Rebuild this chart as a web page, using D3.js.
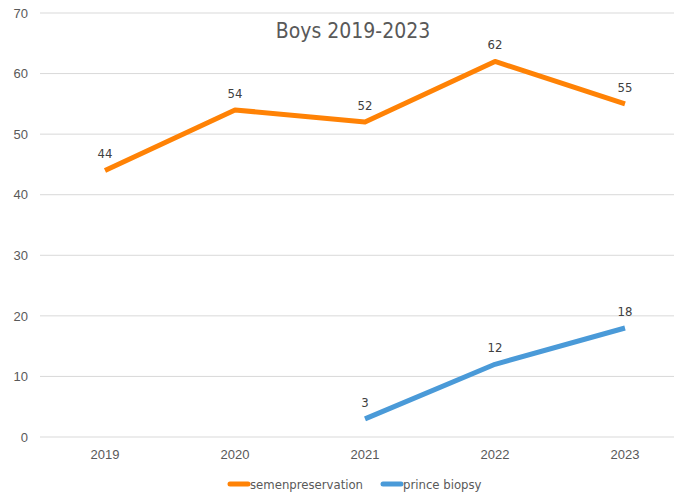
<!DOCTYPE html>
<html>
<head>
<meta charset="utf-8">
<script src="https://cdn.jsdelivr.net/npm/d3@7"></script>
<style>
  body { margin: 0; background: #fff; }
  svg { font-family: "DejaVu Sans Condensed", "DejaVu Sans", sans-serif; }
</style>
</head>
<body>
<div id="chart"></div>
<script>
const years = ['2019', '2020', '2021', '2022', '2023'];
const semen = [44, 54, 52, 62, 55];
const biopsy = [null, null, 3, 12, 18];
const yTicks = [0, 10, 20, 30, 40, 50, 60, 70];

const width = 674, height = 494;
const margin = { top: 13, right: -16, bottom: 57, left: 40 };
const innerW = width - margin.left - margin.right;
const innerH = height - margin.top - margin.bottom;

const svg = d3.select('#chart').append('svg')
  .attr('width', width)
  .attr('height', height);

const g = svg.append('g')
  .attr('transform', `translate(${margin.left},${margin.top})`);

const x = d3.scaleBand().domain(years).range([0, innerW]);
const y = d3.scaleLinear().domain([0, 70]).range([innerH, 0]);

// grid lines
g.append('g')
  .selectAll('line')
  .data(yTicks)
  .enter().append('line')
  .attr('x1', 0)
  .attr('x2', innerW)
  .attr('y1', d => y(d))
  .attr('y2', d => y(d))
  .attr('stroke', '#d9d9d9')
  .attr('stroke-width', 1);

const yAxis = d3.axisLeft(y).tickValues(yTicks).tickSize(0).tickPadding(12);
g.append('g').call(yAxis)
  .call(s => s.select('.domain').remove())
  .selectAll('text')
  .attr('fill', '#595959')
  .style('font-size', '13px');

const xAxis = d3.axisBottom(x).tickSize(0).tickPadding(13);
g.append('g')
  .attr('transform', `translate(0,${innerH})`)
  .call(xAxis)
  .call(s => s.select('.domain').remove())
  .selectAll('text')
  .attr('fill', '#595959')
  .style('font-size', '13px');

const cx = d => x(d) + x.bandwidth() / 2;

const series = [
  { name: 'semenpreservation', values: semen, color: '#ff8205' },
  { name: 'prince biopsy', values: biopsy, color: '#4a9ad8' }
];

const line = d3.line()
  .defined(d => d.v !== null)
  .x(d => cx(d.year))
  .y(d => y(d.v));

series.forEach(s => {
  const pts = years.map((yr, i) => ({ year: yr, v: s.values[i] }));
  g.append('path')
    .datum(pts)
    .attr('fill', 'none')
    .attr('stroke', s.color)
    .attr('stroke-width', 5)
    .attr('stroke-linejoin', 'round')
    .attr('d', line);

  g.selectAll(null)
    .data(pts.filter(d => d.v !== null))
    .enter().append('text')
    .attr('x', d => cx(d.year))
    .attr('y', d => y(d.v) - 12)
    .attr('text-anchor', 'middle')
    .attr('fill', '#404040')
    .style('font-size', '13px')
    .text(d => d.v);
});

// title
svg.append('text')
  .attr('x', 353)
  .attr('y', 38)
  .attr('text-anchor', 'middle')
  .attr('fill', '#595959')
  .style('font-size', '21px')
  .text('Boys 2019-2023');

// legend
const legend = svg.append('g').attr('transform', 'translate(228,484)');
const items = [
  { s: series[0], x: 0 },
  { s: series[1], x: 153 }
];
items.forEach(it => {
  legend.append('line')
    .attr('x1', it.x + 2).attr('x2', it.x + 20)
    .attr('y1', 0).attr('y2', 0)
    .attr('stroke', it.s.color)
    .attr('stroke-width', 5)
    .attr('stroke-linecap', 'round');
  legend.append('text')
    .attr('x', it.x + 22)
    .attr('y', 0)
    .attr('dy', '0.35em')
    .attr('fill', '#595959')
    .style('font-size', '13px')
    .text(it.s.name);
});
</script>
</body>
</html>
